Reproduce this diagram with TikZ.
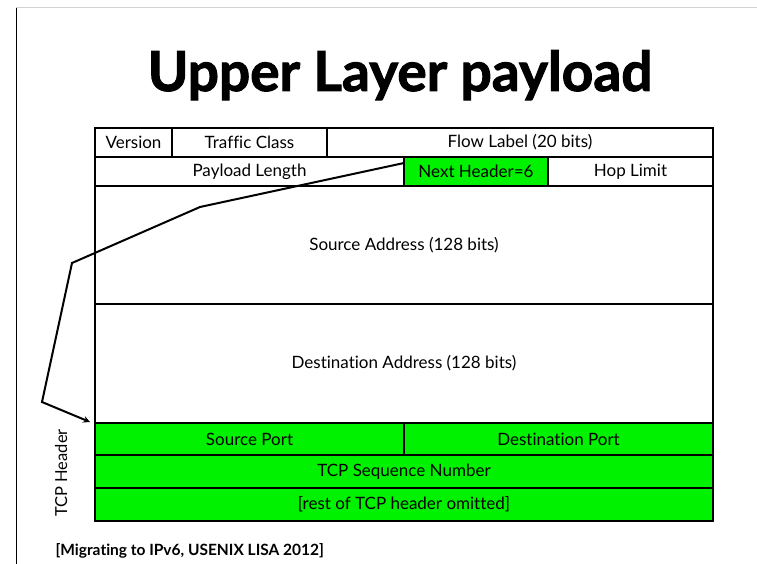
\documentclass[tikz,border=0pt]{standalone}
\usepackage{fontspec}
\setmainfont{Lato}[Ligatures={NoCommon}]
\newfontfamily\titlefont{Lato}[BoldFeatures={FakeBold=1.8}]
\usetikzlibrary{positioning}
\definecolor{tcpgreen}{RGB}{0,242,0}
\tikzset{
    field/.style={draw, line width=1.6pt, inner sep=0pt, outer sep=0pt,
        font=\fontsize{17}{19}\selectfont},
    rowone/.style={field, minimum height=29pt},
    tcpfield/.style={field, fill=tcpgreen},
}
\begin{document}
\begin{tikzpicture}[x=1pt, y=-1pt, >=stealth]
    \useasboundingbox (0,0) rectangle (757,564);

    % Slide frame
    \draw[gray!35, line width=1pt] (16,8) -- (757,8);
    \draw[line width=1pt] (16,8) -- (16,564);

    % Title
    \node[anchor=base, font=\titlefont\bfseries\fontsize{55}{60}\selectfont] (title) at (400,91) {Upper Layer payload};

    % IPv6 header, first row
    \node[rowone, anchor=north west, minimum width=77pt] (version) at (95,128) {Version};
    \node[rowone, right=0pt of version, minimum width=155pt] (tclass) {Traffic Class};
    \node[rowone, right=0pt of tclass, minimum width=386pt] (flow) {Flow Label (20 bits)};

    % Second row
    \node[rowone, anchor=north west, minimum width=309pt] (paylen) at (version.south west) {Payload Length};
    \node[rowone, right=0pt of paylen, fill=tcpgreen, minimum width=144pt] (nexthdr) {Next Header=6};
    \node[rowone, right=0pt of nexthdr, minimum width=165pt] (hoplim) {Hop Limit};

    % Addresses
    \node[field, anchor=north west, minimum width=618pt, minimum height=118pt] (srcaddr) at (paylen.south west) {Source Address (128 bits)};
    \node[field, anchor=north west, minimum width=618pt, minimum height=119pt] (dstaddr) at (srcaddr.south west) {Destination Address (128 bits)};

    % TCP header
    \node[tcpfield, anchor=north west, minimum width=309pt, minimum height=32pt] (srcport) at (dstaddr.south west) {Source Port};
    \node[tcpfield, right=0pt of srcport, minimum width=309pt, minimum height=32pt] (dstport) {Destination Port};
    \node[tcpfield, anchor=north west, minimum width=618pt, minimum height=33pt] (seqnum) at (srcport.south west) {TCP Sequence Number};
    \node[tcpfield, anchor=north west, minimum width=618pt, minimum height=33pt] (resthdr) at (seqnum.south west) {[rest of TCP header omitted]};
    \node[rotate=90, font=\fontsize{16.5}{18}\selectfont] (tcplabel) at (61,473) {TCP Header};

    % Pointer from next header to TCP header
    \coordinate (bendA) at (200,207);
    \coordinate (bendB) at (72,263);
    \coordinate (bendC) at (42,402);
    \draw[->, line width=2pt] ([yshift=-6pt]nexthdr.north west) -- (bendA) -- (bendB) -- (bendC) -- ([xshift=-5pt, yshift=1pt]srcport.north west);

    % Source
    \node[anchor=base west, font=\bfseries\fontsize{15.5}{17}\selectfont] (cite) at (52,555) {[Migrating to IPv6, USENIX LISA 2012]};
\end{tikzpicture}
\end{document}
